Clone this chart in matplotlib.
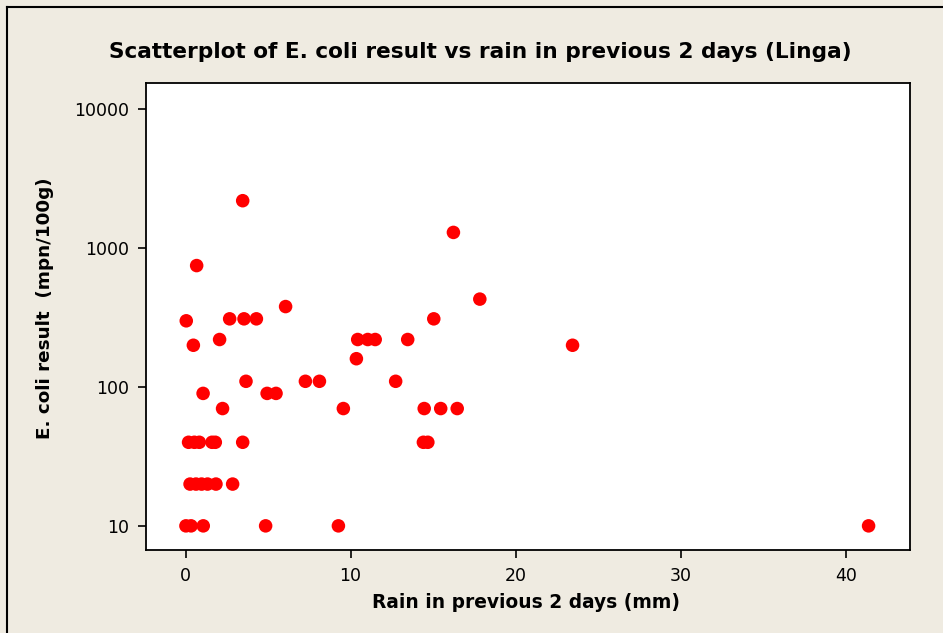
import matplotlib
matplotlib.use("Agg")
import matplotlib.pyplot as plt
from matplotlib.lines import Line2D

# Dados (chuva em mm, E. coli em mpn/100g)
chuva = [3.46, 0.67, 0.04, 2.67, 3.54, 4.29, 6.06, 0.47, 2.06, 3.66,
         1.06, 2.24, 4.94, 5.48,
         0.18, 0.53, 0.83, 1.60, 1.80, 3.46,
         0.27, 0.63, 0.97, 1.33, 1.84, 2.85,
         0.02, 0.33, 1.07, 4.85,
         17.83, 15.04, 10.43, 11.04, 11.49, 13.46, 10.35,
         7.26, 8.11, 12.73, 9.56, 14.46, 15.46, 16.46,
         14.41, 14.68, 9.26, 16.23, 23.45, 41.39]
ecoli = [2200, 750, 300, 310, 310, 310, 380, 200, 220, 110,
         90, 70, 90, 90,
         40, 40, 40, 40, 40, 40,
         20, 20, 20, 20, 20, 20,
         10, 10, 10, 10,
         430, 310, 220, 220, 220, 220, 160,
         110, 110, 110, 70, 70, 70, 70,
         40, 40, 10, 1300, 200, 10]

xticks = [0, 10, 20, 30, 40]
yticks = [10, 100, 1000, 10000]

fundo = "#EFEBE1"

fig = plt.figure(figsize=(9.43, 6.33), dpi=100, facecolor=fundo)
# moldura só em cima e à esquerda
x0, y0 = 7 / 943, 1 - 7 / 633
fig.lines.append(Line2D([x0, 1], [y0, y0], transform=fig.transFigure, color="black", linewidth=1.5))
fig.lines.append(Line2D([x0, x0], [0, y0], transform=fig.transFigure, color="black", linewidth=1.5))

ax = fig.add_axes([146 / 943, 1 - 550 / 633, (910 - 146) / 943, (550 - 83) / 633])
ax.set_facecolor("white")
ax.scatter(chuva, ecoli, s=95, color="red", edgecolors="none", zorder=3)

ax.set_yscale("log")
ax.set_xlim(-2.4, 43.9)
ax.set_ylim(6.7, 15500)
ax.set_xticks(xticks)
ax.set_xticklabels([str(v) for v in xticks])
ax.set_yticks(yticks)
ax.set_yticklabels([str(v) for v in yticks])
ax.minorticks_off()
ax.tick_params(direction="out", length=6, width=1.2, labelsize=12.5, pad=6,
               colors="black")
for sp in ax.spines.values():
    sp.set_linewidth(1.3)

fig.text(0.5 * (107 + 853) / 943, 1 - 52 / 633,
         "Scatterplot of E. coli result vs rain in previous 2 days (Linga)",
         ha="center", va="center", fontsize=15.6, fontweight="bold")
fig.text(526 / 943, 1 - 602 / 633, "Rain in previous 2 days (mm)",
         ha="center", va="center", fontsize=13.4, fontweight="bold")
fig.text(45 / 943, 1 - 308 / 633, "E. coli result  (mpn/100g)",
         ha="center", va="center", rotation=90, fontsize=13.2, fontweight="bold")

plt.savefig("out.png", dpi=100, facecolor=fundo)
